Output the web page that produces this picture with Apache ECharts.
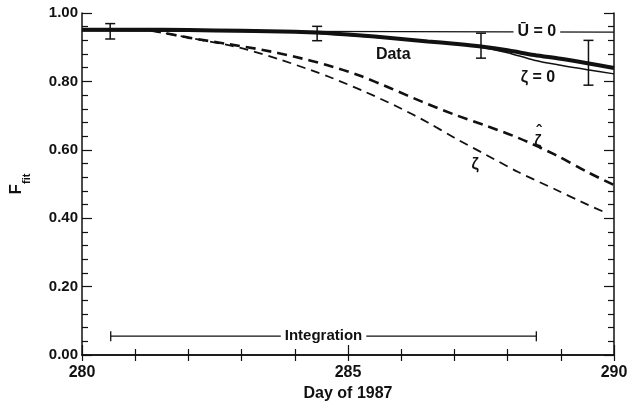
<!DOCTYPE html>
<html>
<head>
<meta charset="utf-8">
<script src="https://cdn.jsdelivr.net/npm/echarts@6/dist/echarts.min.js"></script>
<style>
  html, body { margin: 0; padding: 0; background: #fff; }
  #chart { width: 638px; height: 410px; }
</style>
</head>
<body>
<div id="chart"></div>
<script>
// values
const dataDays = [280, 281, 282, 283, 284, 284.5, 285, 285.5, 286, 286.5, 287, 287.5, 288, 288.5, 289, 289.5, 290];
const dataVals = [0.951, 0.951, 0.950, 0.948, 0.945, 0.942, 0.937, 0.931, 0.924, 0.917, 0.910, 0.902, 0.891, 0.877, 0.866, 0.853, 0.839];

const zeta0Days = [280, 284, 285, 286, 287, 287.5, 288, 288.5, 289, 289.5, 290];
const zeta0Vals = [0.950, 0.944, 0.935, 0.923, 0.910, 0.900, 0.884, 0.862, 0.847, 0.834, 0.822];

const u0Days = [280, 290];
const u0Vals = [0.948, 0.944];

const zetaHatDays = [281.3, 281.7, 282, 282.75, 283.4, 284, 284.6, 285.2, 285.8, 286.4, 287, 287.6, 288.2, 288.9, 289.5, 290];
const zetaHatVals = [0.949, 0.937, 0.928, 0.909, 0.892, 0.872, 0.848, 0.818, 0.780, 0.740, 0.703, 0.670, 0.635, 0.585, 0.535, 0.497];

const zetaDays = [281.3, 281.7, 282, 282.75, 283.1, 283.7, 284.3, 284.7, 285.3, 285.9, 286.5, 287, 287.6, 288.2, 288.9, 289.4, 289.8];
const zetaVals = [0.949, 0.937, 0.928, 0.906, 0.893, 0.865, 0.833, 0.810, 0.771, 0.728, 0.680, 0.635, 0.585, 0.535, 0.484, 0.447, 0.419];

// error bars: day, low, high
const errDays = [280.53, 284.42, 287.5, 289.52];
const errLow = [0.924, 0.919, 0.868, 0.789];
const errHigh = [0.969, 0.961, 0.941, 0.920];

// integration window
const integStart = 280.54;
const integEnd = 288.54;
const integLevel = 0.055;
const integText = 'Integration';

// curve annotations (hat flag puts a circumflex over the letter)
const annotText = ['\u016A = 0', 'Data', '\u03B6 = 0', '\u03B6', '\u03B6'];
const annotHat = [false, false, false, true, false];
const annotDays = [288.55, 285.85, 288.57, 288.57, 287.39];
const annotVals = [0.945, 0.878, 0.811, 0.625, 0.556];

const zip = (a, b) => a.map((v, i) => [v, b[i]]);
const FONT = '"Liberation Sans", Arial, Helvetica, sans-serif';
const INK = '#111';

const chart = echarts.init(document.getElementById('chart'));

const option = {
  animation: false,
  backgroundColor: '#fff',
  grid: { left: 82, right: 24, top: 13, bottom: 55, outerBoundsMode: 'none' },
  xAxis: [
    {
      type: 'value', min: 280, max: 290, interval: 5, position: 'bottom',
      name: 'Day of 1987', nameLocation: 'middle', nameGap: 26,
      nameTextStyle: { fontFamily: FONT, fontSize: 16, fontWeight: 'bold', color: INK },
      axisLine: { lineStyle: { color: INK, width: 1.5 } },
      axisTick: { inside: true, length: 10, lineStyle: { color: INK, width: 1.2 } },
      minorTick: { show: true, splitNumber: 5, length: 6, lineStyle: { color: INK, width: 1.2 } },
      splitLine: { show: false },
      axisLabel: { fontFamily: FONT, fontSize: 16, fontWeight: 'bold', color: INK, margin: 10 }
    },
    {
      type: 'value', min: 280, max: 290, interval: 1, position: 'top',
      axisLine: { lineStyle: { color: INK, width: 1.5 } },
      axisTick: { inside: true, length: 6, lineStyle: { color: INK, width: 1.2 } },
      splitLine: { show: false },
      axisLabel: { show: false }
    }
  ],
  yAxis: [
    {
      type: 'value', min: 0, max: 1, interval: 0.2,
      name: '{f|F}{s|fit}', nameLocation: 'middle', nameGap: 50, nameRotate: 90,
      nameTextStyle: {
        rich: {
          f: { fontFamily: FONT, fontSize: 17, fontWeight: 'bold', color: INK, lineHeight: 24, verticalAlign: 'top' },
          s: { fontFamily: FONT, fontSize: 11, fontWeight: 'bold', color: INK, lineHeight: 24, verticalAlign: 'bottom' }
        }
      },
      axisLine: { lineStyle: { color: INK, width: 1.5 } },
      axisTick: { inside: true, length: 10, lineStyle: { color: INK, width: 1.2 } },
      minorTick: { show: true, splitNumber: 5, length: 6, lineStyle: { color: INK, width: 1.2 } },
      splitLine: { show: false },
      axisLabel: { fontFamily: FONT, fontSize: 15, fontWeight: 'bold', color: INK, margin: 4, formatter: v => v.toFixed(2) }
    },
    {
      type: 'value', min: 0, max: 1, interval: 0.2, position: 'right',
      axisLine: { lineStyle: { color: INK, width: 1.5 } },
      axisTick: { inside: true, length: 10, lineStyle: { color: INK, width: 1.2 } },
      minorTick: { show: true, splitNumber: 5, length: 6, lineStyle: { color: INK, width: 1.2 } },
      splitLine: { show: false },
      axisLabel: { show: false }
    }
  ],
  series: [
    {
      name: 'U=0', type: 'line', data: zip(u0Days, u0Vals), symbol: 'none',
      lineStyle: { color: INK, width: 1.3 }, z: 2
    },
    {
      name: 'zeta=0', type: 'line', data: zip(zeta0Days, zeta0Vals), symbol: 'none', smooth: 0.3,
      lineStyle: { color: INK, width: 1.5 }, z: 2
    },
    {
      name: 'Data', type: 'line', data: zip(dataDays, dataVals), symbol: 'none', smooth: 0.3,
      lineStyle: { color: INK, width: 4 }, z: 3
    },
    {
      name: 'zeta hat', type: 'line', data: zip(zetaHatDays, zetaHatVals), symbol: 'none', smooth: 0.3,
      lineStyle: { color: INK, width: 2.6, type: [10, 6] }, z: 2
    },
    {
      name: 'zeta', type: 'line', data: zip(zetaDays, zetaVals), symbol: 'none', smooth: 0.3,
      lineStyle: { color: INK, width: 1.8, type: [9, 6] }, z: 2
    },
    {
      name: 'errors', type: 'custom', z: 4,
      data: errDays.map((d, i) => [d, errLow[i], errHigh[i]]),
      encode: { x: 0, y: [1, 2] },
      renderItem: (params, api) => {
        const lo = api.coord([api.value(0), api.value(1)]);
        const hi = api.coord([api.value(0), api.value(2)]);
        const st = { stroke: INK, lineWidth: 1.5 };
        return {
          type: 'group',
          children: [
            { type: 'line', shape: { x1: lo[0], y1: lo[1], x2: hi[0], y2: hi[1] }, style: st },
            { type: 'line', shape: { x1: lo[0] - 5, y1: lo[1], x2: lo[0] + 5, y2: lo[1] }, style: st },
            { type: 'line', shape: { x1: hi[0] - 5, y1: hi[1], x2: hi[0] + 5, y2: hi[1] }, style: st }
          ]
        };
      }
    },
    {
      name: 'integration', type: 'custom', z: 4,
      data: [[integStart, integEnd, integLevel]],
      encode: { x: [0, 1], y: 2 },
      renderItem: (params, api) => {
        const a = api.coord([api.value(0), api.value(2)]);
        const b = api.coord([api.value(1), api.value(2)]);
        const st = { stroke: INK, lineWidth: 1.3 };
        return {
          type: 'group',
          children: [
            { type: 'line', shape: { x1: a[0], y1: a[1], x2: b[0], y2: b[1] }, style: st },
            { type: 'line', shape: { x1: a[0], y1: a[1] - 5, x2: a[0], y2: a[1] + 5 }, style: st },
            { type: 'line', shape: { x1: b[0], y1: b[1] - 5, x2: b[0], y2: b[1] + 5 }, style: st },
            {
              type: 'text', x: (a[0] + b[0]) / 2, y: a[1],
              style: {
                text: integText, fill: INK, fontFamily: FONT, fontSize: 15, fontWeight: 'bold',
                align: 'center', verticalAlign: 'middle',
                backgroundColor: '#fff', padding: [1, 4]
              }
            }
          ]
        };
      }
    },
    {
      name: 'labels', type: 'custom', z: 5,
      data: annotDays.map((d, i) => [d, annotVals[i], i]),
      encode: { x: 0, y: 1 },
      renderItem: (params, api) => {
        const p = api.coord([api.value(0), api.value(1)]);
        const i = api.value(2);
        const children = [{
          type: 'text', x: p[0], y: p[1],
          style: {
            text: annotText[i], fill: INK, fontFamily: FONT, fontSize: 16, fontWeight: 'bold',
            align: 'center', verticalAlign: 'middle',
            backgroundColor: i === 0 ? '#fff' : 'transparent', padding: [0, 4]
          }
        }];
        if (annotHat[i]) {
          children.push({
            type: 'text', x: p[0] + 1, y: p[1] - 9,
            style: {
              text: '\u02C6', fill: INK, fontFamily: FONT, fontSize: 16, fontWeight: 'bold',
              align: 'center', verticalAlign: 'middle'
            }
          });
        }
        return { type: 'group', children: children };
      }
    }
  ]
};

chart.setOption(option);
</script>
</body>
</html>
